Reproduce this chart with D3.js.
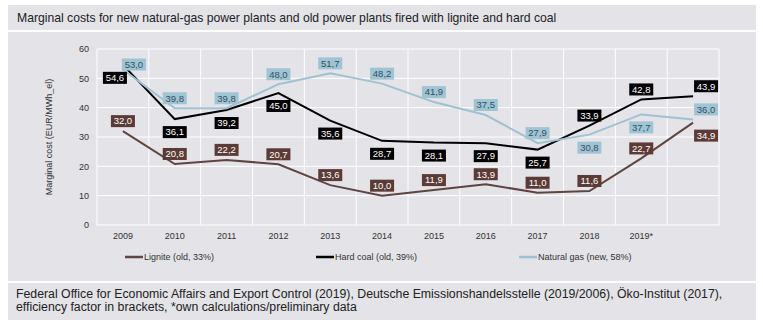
<!DOCTYPE html>
<html>
<head>
<meta charset="utf-8">
<script src="https://cdn.jsdelivr.net/npm/d3@7"></script>
<style>
  body { margin: 0; background: #fff; }
  text { font-family: "Liberation Sans", Arial, sans-serif; }
</style>
</head>
<body>
<div id="chart"></div>
<script>
// data
var years = ["2009", "2010", "2011", "2012", "2013", "2014", "2015", "2016", "2017", "2018", "2019*", ""];
var lignite = [32.0, 20.8, 22.2, 20.7, 13.6, 10.0, 11.9, 13.9, 11.0, 11.6, 22.7, 34.9];
var hardCoal = [54.6, 36.1, 39.2, 45.0, 35.6, 28.7, 28.1, 27.9, 25.7, 33.9, 42.8, 43.9];
var naturalGas = [53.0, 39.8, 39.8, 48.0, 51.7, 48.2, 41.9, 37.5, 27.9, 30.8, 37.7, 36.0];
var yTicks = [0, 10, 20, 30, 40, 50, 60];

// where each value label sits relative to its point ("u" above, "d" below)
var lignitePos = ["u", "u", "u", "u", "u", "u", "u", "u", "u", "u", "u", "d"];
var hardCoalPos = ["d", "d", "d", "d", "d", "d", "d", "d", "d", "u", "u", "u"];
var gasPos = ["u", "u", "u", "u", "u", "u", "u", "u", "u", "d", "d", "u"];

var series = [
    { name: "Lignite (old, 33%)", values: lignite, pos: lignitePos, line: "#5f4541", box: "#5c3b36", txt: "#fff" },
    { name: "Hard coal (old, 39%)", values: hardCoal, pos: hardCoalPos, line: "#000", box: "#000", txt: "#fff" },
    { name: "Natural gas (new, 58%)", values: naturalGas, pos: gasPos, line: "#9fc2d1", box: "#9fc4d4", txt: "#33505e" }
];

var W = 763, H = 325;
var panel = "#e3e3e8";

var svg = d3.select("#chart").append("svg")
    .attr("width", W)
    .attr("height", H);

// background panels
svg.append("rect").attr("x", 8).attr("y", 5).attr("width", 748).attr("height", 25).attr("fill", panel);
svg.append("rect").attr("x", 8).attr("y", 32).attr("width", 748).attr("height", 249).attr("fill", panel);
svg.append("rect").attr("x", 8).attr("y", 283).attr("width", 748).attr("height", 37).attr("fill", panel);

svg.append("text")
    .attr("x", 17).attr("y", 22)
    .attr("font-size", 12.2)
    .attr("fill", "#222")
    .text("Marginal costs for new natural-gas power plants and old power plants fired with lignite and hard coal");

svg.append("text")
    .attr("x", 16).attr("y", 298)
    .attr("font-size", 12.3)
    .attr("fill", "#222")
    .text("Federal Office for Economic Affairs and Export Control (2019), Deutsche Emissionshandelsstelle (2019/2006), Öko-Institut (2017),");
svg.append("text")
    .attr("x", 16).attr("y", 311)
    .attr("font-size", 12.3)
    .attr("fill", "#222")
    .text("efficiency factor in brackets, *own calculations/preliminary data");

var margin = { top: 49, left: 97 };
var width = 622, height = 176;

var g = svg.append("g")
    .attr("transform", "translate(" + margin.left + "," + margin.top + ")");

var x = d3.scaleBand()
    .domain(d3.range(years.length))
    .range([0, width]);

var y = d3.scaleLinear()
    .domain([0, 60])
    .range([height, 0]);

// grid
g.selectAll(".hgrid")
    .data(yTicks)
    .enter().append("line")
    .attr("class", "hgrid")
    .attr("x1", 0).attr("x2", width)
    .attr("y1", function(d) { return y(d); })
    .attr("y2", function(d) { return y(d); })
    .attr("stroke", "#fff")
    .attr("stroke-width", 1);

g.selectAll(".vgrid")
    .data(d3.range(years.length + 1))
    .enter().append("line")
    .attr("class", "vgrid")
    .attr("x1", function(d) { return d * x.step(); })
    .attr("x2", function(d) { return d * x.step(); })
    .attr("y1", 0).attr("y2", height)
    .attr("stroke", "#fff")
    .attr("stroke-width", 1);

// axes
var yAxis = d3.axisLeft(y).tickValues(yTicks).tickSize(0).tickPadding(8);
var gy = g.append("g").attr("class", "y-axis").call(yAxis);
gy.select(".domain").remove();
gy.selectAll("text").attr("font-size", 9).attr("fill", "#333");

var xAxis = d3.axisBottom(x).tickSize(0).tickPadding(8).tickFormat(function(i) { return years[i]; });
var gx = g.append("g").attr("class", "x-axis")
    .attr("transform", "translate(0," + height + ")")
    .call(xAxis);
gx.select(".domain").remove();
gx.selectAll("text").attr("font-size", 9).attr("fill", "#333");

svg.append("text")
    .attr("transform", "translate(52," + (margin.top + height / 2) + ") rotate(-90)")
    .attr("text-anchor", "middle")
    .attr("font-size", 9)
    .attr("fill", "#333")
    .text("Marginal cost (EUR/MWh_el)");

// lines
var line = d3.line()
    .x(function(d, i) { return x(i) + x.bandwidth() / 2; })
    .y(function(d) { return y(d); });

series.forEach(function(s) {
    g.append("path")
        .datum(s.values)
        .attr("fill", "none")
        .attr("stroke", s.line)
        .attr("stroke-width", 2)
        .attr("d", line);
});

// value labels
var last = years.length - 1;
series.forEach(function(s, si) {
    var lab = g.selectAll(".lab" + si)
        .data(s.values)
        .enter().append("g")
        .attr("class", "lab" + si)
        .attr("transform", function(d, i) {
            var cx = x(i) + x.bandwidth() / 2;
            var cy = y(d) + (s.pos[i] === "u" ? -10 : 13);
            if (i === last) cx += 13;
            if (i === 0 && si === 1) cx -= 8;
            if (i === 0 && si === 2) { cx += 11; cy += 5; }
            return "translate(" + cx + "," + cy + ")";
        });
    lab.append("rect")
        .attr("x", -12).attr("y", -6)
        .attr("width", 24).attr("height", 12)
        .attr("fill", s.box);
    lab.append("text")
        .attr("text-anchor", "middle")
        .attr("dy", "0.35em")
        .attr("font-size", 9.5)
        .attr("fill", s.txt)
        .text(function(d) { return d3.format(".1f")(d).replace(".", ","); });
});

// legend
var legendX = [125, 316, 519];
series.forEach(function(s, i) {
    var lg = svg.append("g").attr("transform", "translate(" + legendX[i] + ",257)");
    lg.append("line")
        .attr("x1", 0).attr("x2", 18)
        .attr("stroke", s.line)
        .attr("stroke-width", 2.5);
    lg.append("text")
        .attr("x", 19).attr("dy", "0.35em")
        .attr("font-size", 9)
        .attr("fill", "#333")
        .text(s.name);
});
</script>
</body>
</html>
